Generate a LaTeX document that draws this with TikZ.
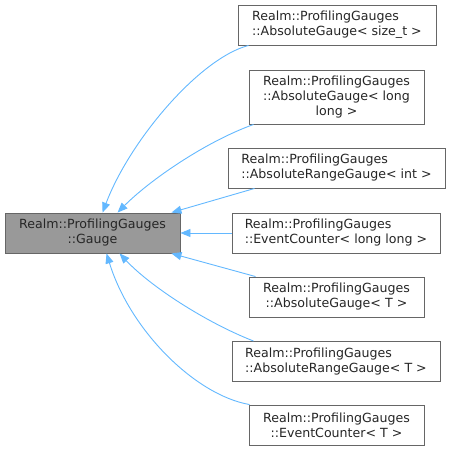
\documentclass[tikz,border=0pt]{standalone}
\usepackage{fontspec}
\setmainfont{DejaVu Sans}
\usetikzlibrary{arrows.meta,calc}
\definecolor{edgeblue}{HTML}{63B8FF}
\definecolor{boxline}{HTML}{666666}
\definecolor{basefill}{HTML}{999999}
\begin{document}
\begin{tikzpicture}[x=1pt,y=-1pt,
  box/.style={draw=boxline,fill=white,line width=0.9pt,inner sep=0pt,
    font=\fontsize{12.6}{15}\selectfont,text=black!85},
  basebox/.style={box,fill=basefill},
  inh/.style={draw=edgeblue,line width=0.9pt,-{Triangle[length=10pt,width=8pt]}}]
\useasboundingbox (0,0) rectangle (451,451);
\node[basebox,minimum width=175pt,minimum height=40pt,align=center] (g) at (92.5,233) {Realm::ProfilingGauges\\::Gauge};
\node[box,minimum width=198pt,minimum height=40pt,align=left] (n1) at (337,25) {Realm::ProfilingGauges\\::AbsoluteGauge< size\_t >};
\node[box,minimum width=175pt,minimum height=54pt,align=center] (n2) at (336.5,97) {Realm::ProfilingGauges\\::AbsoluteGauge< long\\long >};
\node[box,minimum width=217pt,minimum height=40pt,align=left] (n3) at (336.5,168) {Realm::ProfilingGauges\\::AbsoluteRangeGauge< int >};
\node[box,minimum width=208pt,minimum height=40pt,align=left] (n4) at (336,233) {Realm::ProfilingGauges\\::EventCounter< long long >};
\node[box,minimum width=175pt,minimum height=40pt,align=center] (n5) at (336.5,297) {Realm::ProfilingGauges\\::AbsoluteGauge< T >};
\node[box,minimum width=208pt,minimum height=40pt,align=left] (n6) at (336,361.5) {Realm::ProfilingGauges\\::AbsoluteRangeGauge< T >};
\node[box,minimum width=175pt,minimum height=40pt,align=center] (n7) at (336.5,425) {Realm::ProfilingGauges\\::EventCounter< T >};
\draw[inh] ($(n1.south west)+(11,0)$) .. controls (200,58) and (130,140) .. ($(g.north west)+(98,0)$);
\draw[inh] ($(n2.south west)+(5,0)$) .. controls (205,142) and (150,180) .. ($(g.north west)+(113,0)$);
\draw[inh] ($(n3.south west)+(27,0)$) -- ($(g.north east)+(-9,0)$);
\draw[inh] (n4.west) -- (g.east);
\draw[inh] ($(n5.north west)+(7,0)$) -- ($(g.south east)+(-9,0)$);
\draw[inh] ($(n6.north west)+(22,0)$) .. controls (205,322) and (150,286) .. ($(g.south west)+(115,0)$);
\draw[inh] ($(n7.north west)+(1,0)$) .. controls (195,395) and (130,330) .. ($(g.south west)+(102,0)$);
\end{tikzpicture}
\end{document}
